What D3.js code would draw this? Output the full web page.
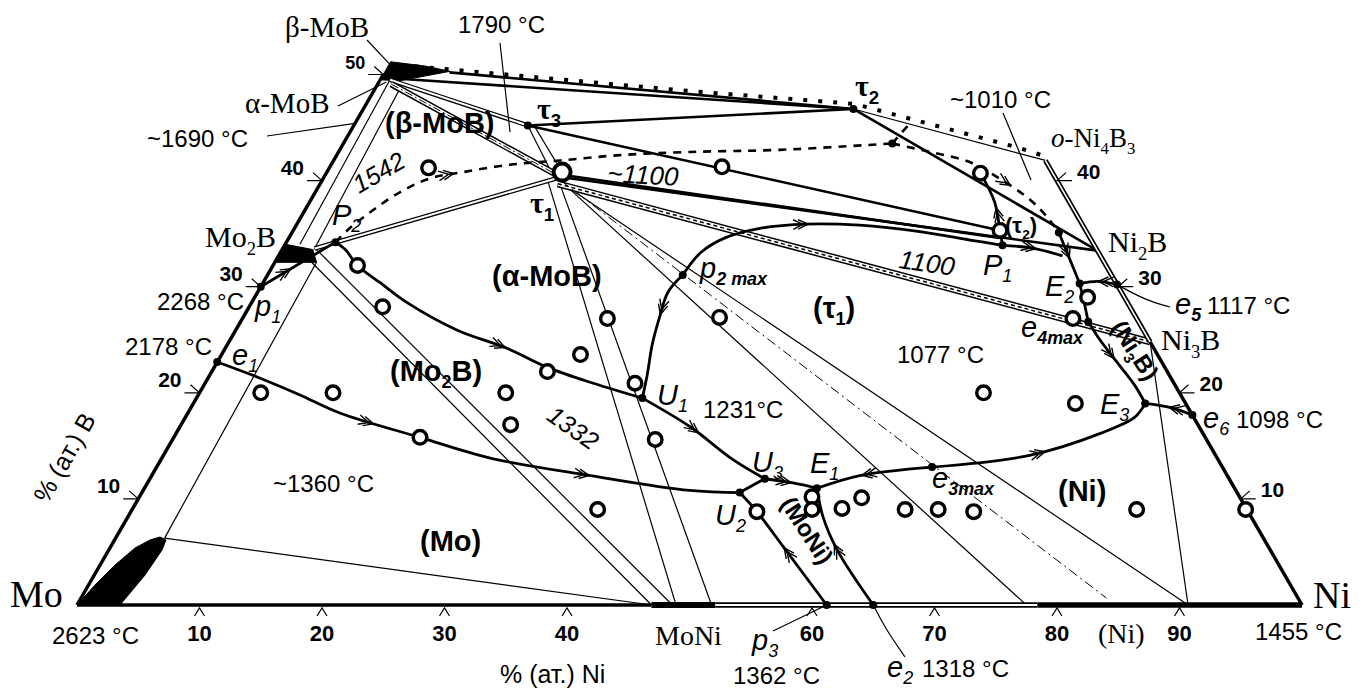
<!DOCTYPE html>
<html>
<head>
<meta charset="utf-8">
<script src="https://d3js.org/d3.v7.min.js"></script>
<style>
  body { margin: 0; background: #fff; }
  svg text { font-family: "Liberation Sans", Arial, sans-serif; fill: #000; }
  svg text.serif { font-family: "Liberation Serif", "Times New Roman", serif; }
</style>
</head>
<body>
<script>
// all compositions are at.% [Ni, B]; Mo is the balance

// alloys studied (open circles)
const alloys = [
  [8.1, 41.2], [32.0, 41.3], [53.4, 40.7], [57.7, 35.3], [6.9, 32.0], [10.9, 28.1],
  [29.8, 27.0], [38.9, 27.1], [29.3, 23.6], [27.4, 22.0], [35.1, 20.9], [25.0, 20.0],
  [26.9, 17.0], [39.4, 15.6], [20.1, 15.8], [5.0, 20.0], [10.9, 20.0], [38.0, 9.0],
  [51.1, 8.8], [54.9, 10.2], [55.5, 9.0], [57.9, 9.1], [59.0, 10.1], [63.1, 9.0],
  [65.8, 9.0], [68.8, 8.8], [68.0, 29.0], [67.8, 27.0], [64.0, 20.0], [72.0, 19.0],
  [82.0, 9.0], [90.9, 9.0]
];
const tau1Alloy = [19.2, 40.8];

// invariant points (black dots)
const invariantNames = ['e1', 'p1', 'P2', 'U1', 'p2max', 'U3', 'U2', 'E1', 'p3', 'e2', 'e3max',
  'E3', 'e6', 'e4max', 'E2', 'e5', 'd1', 'P1', 'd2', 'tau2', 'tau3'];
const invariantComp = [[0, 22.9], [0, 30], [4.0, 34.2], [36.4, 19.5], [33.9, 31.1], [50.2, 11.9],
  [48.8, 10.6], [54.9, 11.0], [61.2, 0], [65.0, 0], [63.3, 13.0], [77.7, 19.0], [82.1, 17.9],
  [69.2, 26.7], [66.7, 30.3], [69.8, 30.2], [62.6, 35.1], [58.6, 33.9], [44.8, 43.5],
  [40.0, 46.75], [14.2, 45.2]];

// monovariant lines
const lineE1U2 = [[0, 22.9], [4.2, 21.4], [8.3, 19.8], [12.4, 18.1], [20.1, 15.8], [26.8, 13.85], [35.8, 12.2], [44.6, 10.8], [48.8, 10.6]];
const lineP2U1 = [[4.0, 34.2], [5.15, 33.5], [6.9, 32.0], [9.6, 30.35], [12.7, 28.5], [18.1, 25.9], [23.0, 24.2], [27.2, 22.4], [31.7, 20.9], [36.4, 19.5]];
const lineP1P2 = [[0, 30], [4.0, 34.2]];
const lineMaxU1 = [[33.9, 31.1], [33.5, 29.5], [34.0, 27.1], [34.7, 24.5], [35.7, 21.7], [36.4, 19.5]];
const lineMaxP1 = [[33.9, 31.1], [34.3, 33.2], [35.6, 34.6], [38.0, 35.5], [41.6, 35.9], [46.0, 35.8], [51.2, 35.2], [55.7, 34.4], [58.6, 33.9]];
const lineU1U3 = [[36.4, 19.5], [41.65, 16.8], [46.7, 13.7], [50.2, 11.9]];
const lineU3E1 = [[50.2, 11.9], [52.7, 11.5], [54.9, 11.0]];
const lineU3U2 = [[50.2, 11.9], [48.8, 10.6]];
const lineP3U2 = [[61.2, 0], [54.9, 5.5], [51.1, 8.8], [48.8, 10.6]];
const lineE2E1 = [[65.0, 0], [59.45, 5.2], [56.75, 8.3], [54.9, 11.0]];
const lineMaxE1 = [[63.3, 13.0], [57.8, 12.2], [54.9, 11.0]];
const lineMaxE3 = [[63.3, 13.0], [70.7, 14.1], [75.5, 16.2], [77.5, 17.7], [77.7, 19.0]];
const lineE6E3 = [[82.1, 17.9], [80.0, 18.6], [77.7, 19.0]];
const lineMax4E3 = [[69.2, 26.7], [71.0, 25.0], [73.2, 23.1], [76.0, 20.7], [77.7, 19.0]];
const lineMax4E2 = [[69.2, 26.7], [67.9, 28.6], [66.7, 30.3]];
const lineE5E2 = [[69.8, 30.2], [68.1, 30.5], [66.7, 30.3]];
const lineD1E2 = [[62.6, 35.1], [64.4, 33.0], [66.7, 30.3]];
const lineP1Side = [[58.6, 33.9], [61.4, 33.6], [64.0, 32.9]];
const lineP1Up = [[58.6, 33.9], [57.7, 35.3], [55.9, 38.0], [53.4, 40.7]];

// dashed and dotted lines
const dashedLow = [[4.0, 34.2], [4.5, 35.5], [5.55, 37.2], [6.9, 38.9], [8.7, 40.2], [11.1, 40.8], [14.6, 41.5], [18.5, 41.9], [23.1, 42.4], [28.7, 42.7], [35.95, 42.9], [44.8, 43.5]];
const dashedRight = [[44.8, 43.5], [48.3, 42.7], [52.0, 41.75], [55.2, 40.2], [58.7, 38.2], [61.0, 36.5], [62.6, 35.1]];
const dashedShort = [[44.8, 43.5], [45.3, 45.4]];
const dottedTop = [[0.9, 50.9], [25.8, 48.44], [39.9, 47.22], [55.4, 43.07], [58.4, 42.13]];

// tie lines / phase-field boundaries
const tieThin = [
  [[4.0, 6.3], [46.9, 0]], [[4.0, 6.3], [3.4, 32.3]], [[3.0, 32.3], [46.9, 0]], [[2.8, 33.5], [48.6, 0]],
  [[2.6, 33.5], [2.0, 49.3]], [[1.2, 34.0], [0.8, 49.5]],
  [[14.2, 45.2], [18.6, 40.5]], [[14.7, 45.2], [19.5, 40.5]],
  [[18.5, 39.9], [48.9, 0]], [[19.4, 39.9], [51.8, 0]],
  [[19.6, 39.9], [77.5, 0]], [[19.8, 39.7], [90.7, 0]],
  [[75.2, 24.8], [90.7, 0]], [[40.0, 46.75], [58.1, 41.9]]
];
const tieDouble = [[[2.6, 33.6], [19.0, 40.2]], [[0.8, 49.5], [14.2, 45.2]]];
const tieDashDotDouble = [[1.1, 49.1], [19.2, 40.4]];
const tieHatched = [[19.4, 39.7], [75.2, 24.8]];
const tieDashDot = [[19.5, 40.0], [83.7, 0.66]];
const tieThick = [
  [[5.3, 50.2], [40, 46.75]], [[1.5, 49.6], [40, 46.75]], [[14.2, 45.2], [40, 46.75]],
  [[14.2, 45.2], [57.7, 35.3]], [[19.6, 40.5], [58.0, 34.6]], [[19.6, 40.3], [66.6, 33.4]],
  [[40, 46.75], [66.6, 33.4]]
];

// single-phase regions drawn solid
const moSolid = [[0, 0], [0.53, 1.885], [1.22, 3.77], [2.05, 5.37], [2.9, 6.13], [3.57, 6.41], [4.2, 6.13], [4.35, 5.18], [4.14, 2.83], [3.51, 0]];
const mo2bPhase = [[0, 34], [2.5, 33.5], [3.4, 32.3], [0, 32.3]];
const mobPhase = [[0, 49.5], [0, 51.2], [3, 50.8], [5.3, 50.3], [1.6, 49.4]];

// triangle sides
const sideLeft = [[0, 0], [0, 50]];
const sideRightLow = [[100, 0], [75.2, 24.8]];
const sideRightHigh = [[75.2, 24.8], [66.6, 33.4], [58.1, 41.9]];
const baseSolid = [0, 46.9];
const baseMoNi = [46.9, 52.1];
const baseDouble = [52.1, 78.4];
const baseNi = [78.4, 100];

// ticks
const ticksNi = [10, 20, 30, 40, 60, 70, 80, 90];
const ticksBLeft = [10, 20, 30, 40, 50];
const ticksBRight = [10, 20, 30, 40];

// ---------------------------------------------------------------
const width = 1368, height = 689;
const svg = d3.select('body').append('svg').attr('width', width).attr('height', height);

const x = d3.scaleLinear().domain([0, 100]).range([77, 1302]);
const y = d3.scaleLinear().domain([0, 100]).range([605, -456]);
const P = d => [x(d[0] + d[1] / 2), y(d[1])];
const straight = d3.line().x(d => P(d)[0]).y(d => P(d)[1]);
const smooth = d3.line().x(d => P(d)[0]).y(d => P(d)[1]).curve(d3.curveCatmullRom.alpha(0.5));
const pt = Object.fromEntries(invariantNames.map((n, i) => [n, invariantComp[i]]));

const g = svg.append('g').attr('fill', 'none').attr('stroke', '#000').attr('stroke-linecap', 'butt');

// solid phases
[moSolid, mo2bPhase, mobPhase].forEach(poly =>
  g.append('path').attr('d', straight(poly) + 'Z').attr('fill', '#000').attr('stroke', '#000').attr('stroke-width', 1));

// thin ties
tieThin.forEach(l => g.append('path').attr('d', straight(l)).attr('stroke-width', 1.2));

// double lines
function doubleLine(l, outer, inner) {
  g.append('path').attr('d', straight(l)).attr('stroke-width', outer);
  g.append('path').attr('d', straight(l)).attr('stroke', '#fff').attr('stroke-width', inner);
}
tieDouble.forEach(l => doubleLine(l, 4.5, 2));
doubleLine(tieDashDotDouble, 6.5, 3.5);
g.append('path').attr('d', straight(tieDashDotDouble)).attr('stroke-width', 1).attr('stroke-dasharray', '8,3,2,3');
doubleLine(tieHatched, 7, 4);
g.append('path').attr('d', straight(tieHatched)).attr('stroke-width', 1.5).attr('stroke-dasharray', '4,3');
g.append('path').attr('d', straight(tieDashDot)).attr('stroke-width', 1).attr('stroke-dasharray', '10,4,2,4');

tieThick.forEach(l => g.append('path').attr('d', straight(l)).attr('stroke-width', 2.6));

// sides
g.append('path').attr('d', straight(sideLeft)).attr('stroke-width', 3.5);
g.append('path').attr('d', straight(sideRightLow)).attr('stroke-width', 3.5);
doubleLine(sideRightHigh, 5, 1.6);
const base = r => straight([[r[0], 0], [r[1], 0]]);
g.append('path').attr('d', base(baseSolid)).attr('stroke-width', 3.5);
g.append('path').attr('d', base(baseMoNi)).attr('stroke-width', 6);
g.append('path').attr('d', base(baseDouble)).attr('stroke-width', 5.5);
g.append('path').attr('d', base(baseDouble)).attr('stroke', '#fff').attr('stroke-width', 2);
g.append('path').attr('d', base(baseNi)).attr('stroke-width', 5.5);

// dotted & dashed
g.append('path').attr('d', straight(dottedTop)).attr('stroke-width', 4).attr('stroke-dasharray', '4,11');
const dashed = [dashedLow, dashedRight, dashedShort].map(l =>
  g.append('path').attr('d', smooth(l)).attr('stroke-width', 2.6).attr('stroke-dasharray', '8,7'));

// monovariant curves
const curves = [lineE1U2, lineP2U1, lineP1P2, lineMaxU1, lineMaxP1, lineU1U3, lineU3E1, lineU3U2,
  lineP3U2, lineE2E1, lineMaxE1, lineMaxE3, lineE6E3, lineMax4E3, lineMax4E2, lineE5E2, lineD1E2,
  lineP1Side, lineP1Up].map(l => g.append('path').attr('d', smooth(l)).attr('stroke-width', 2.8));

// chevron arrows along curves
function chevrons(node, t, n) {
  const L = node.getTotalLength();
  const a0 = node.getPointAtLength(Math.max(0, L * t - 2));
  const a1 = node.getPointAtLength(Math.min(L, L * t + 2));
  const ang = Math.atan2(a1.y - a0.y, a1.x - a0.x);
  const c = node.getPointAtLength(L * t);
  let d = '';
  for (let k = 0; k < n; k++) {
    const tx = c.x - Math.cos(ang) * k * 5, ty = c.y - Math.sin(ang) * k * 5;
    const l = 11, s = 0.45;
    d += `M${tx - l * Math.cos(ang - s)},${ty - l * Math.sin(ang - s)}L${tx},${ty}L${tx - l * Math.cos(ang + s)},${ty - l * Math.sin(ang + s)}`;
  }
  g.append('path').attr('d', d).attr('stroke-width', 1.4);
}
[[0, 0.31], [0, 0.72], [1, 0.58], [2, 0.4], [3, 0.35], [4, 0.42], [5, 0.45], [6, 0.5], [8, 0.5],
 [9, 0.55], [10, 0.6], [11, 0.5], [12, 0.5], [13, 0.45], [15, 0.5], [16, 0.5], [17, 0.55], [18, 0.5]]
  .forEach(([i, t]) => chevrons(curves[i].node(), t, 2));
chevrons(dashed[0].node(), 0.24, 2);
chevrons(dashed[1].node(), 0.65, 2);

// leaders
const lead = (a, b) => g.append('path').attr('d', d3.line()([a, b])).attr('stroke-width', 1.2);
lead([367, 40], P([0, 51]));
lead([338, 106], P([0.6, 49.3]));
lead([267, 136], P([0, 45.4]));
lead([500, 43], [510, 132]);
lead([1003, 113], [1031, 180]);
lead([773, 631], P(pt.p3));
g.append('path').attr('d', d3.line().curve(d3.curveBasis)([P(pt.e2), [885, 628], [905, 657]])).attr('stroke-width', 1.2);
g.append('path').attr('d', d3.line().curve(d3.curveBasis)([[1170, 307], [1145, 300], P(pt.e5)])).attr('stroke-width', 1.2);

// alloys
g.selectAll('circle.alloy').data(alloys).join('circle').attr('class', 'alloy')
  .attr('cx', d => P(d)[0]).attr('cy', d => P(d)[1]).attr('r', 6.8)
  .attr('fill', '#fff').attr('stroke-width', 3.4);
g.append('circle').attr('cx', P(tau1Alloy)[0]).attr('cy', P(tau1Alloy)[1]).attr('r', 8.5)
  .attr('fill', '#fff').attr('stroke-width', 4);

// invariant dots
g.selectAll('circle.inv').data(invariantComp).join('circle').attr('class', 'inv')
  .attr('cx', d => P(d)[0]).attr('cy', d => P(d)[1]).attr('r', 4).attr('fill', '#000').attr('stroke', 'none');

// ticks
ticksNi.forEach(v => {
  const p = P([v, 0]);
  g.append('path').attr('d', `M${p[0] - 5},${p[1] + 11}L${p[0]},${p[1] + 3}L${p[0] + 5},${p[1] + 11}`).attr('stroke-width', 1.2);
  svg.append('text').attr('x', p[0]).attr('y', 641).attr('text-anchor', 'middle')
    .attr('font-weight', 'bold').attr('font-size', 22).text(v);
});
ticksBLeft.forEach(v => {
  const p = P([0, v]);
  g.append('path').attr('d', `M${p[0] - 15},${p[1]}L${p[0]},${p[1]}L${p[0] - 9},${p[1] - 8}`).attr('stroke-width', 1.2);
  svg.append('text').attr('x', p[0] - 18).attr('y', p[1] - 6).attr('text-anchor', 'end')
    .attr('font-weight', 'bold').attr('font-size', v === 50 ? 18 : 21).text(v);
});
ticksBRight.forEach(v => {
  const p = P([100 - v, v]);
  g.append('path').attr('d', `M${p[0] + 15},${p[1]}L${p[0]},${p[1]}L${p[0] + 9},${p[1] - 8}`).attr('stroke-width', 1.2);
  svg.append('text').attr('x', p[0] + 20).attr('y', p[1] - 2)
    .attr('font-weight', 'bold').attr('font-size', 21).text(v);
});

// text helper: _{..} subscript, *..* italic
function label(str, px, py, o = {}) {
  const fs = o.size || 25;
  const t = svg.append('text').attr('x', px).attr('y', py).attr('font-size', fs);
  if (o.serif) t.attr('class', 'serif');
  if (o.bold) t.attr('font-weight', 'bold');
  if (o.italic) t.attr('font-style', 'italic');
  if (o.anchor) t.attr('text-anchor', o.anchor);
  if (o.rot) t.attr('transform', `rotate(${o.rot},${px},${py})`);
  let shift = 0;
  str.split(/(_\{[^}]*\}|\*[^*]*\*)/).filter(s => s !== '').forEach(p => {
    const ts = t.append('tspan');
    if (p.startsWith('_{')) {
      const sh = fs * 0.25;
      ts.text(p.slice(2, -1)).attr('font-size', fs * 0.62).attr('dy', sh - shift);
      if (o.subBold) ts.attr('font-weight', 'bold').attr('font-family', '"Liberation Sans", Arial, sans-serif');
      shift = sh;
    } else {
      if (shift) { ts.attr('dy', -shift); shift = 0; }
      if (p.startsWith('*')) ts.text(p.slice(1, -1)).attr('font-style', 'italic');
      else ts.text(p);
    }
  });
  return t;
}

// compounds (serif)
label('β-MoB', 285, 37, { serif: true, size: 29 });
label('α-MoB', 245, 113, { serif: true, size: 29 });
label('Mo_{2}B', 205, 247, { serif: true, size: 30 });
label('Ni_{2}B', 1108, 252, { serif: true, size: 30 });
label('Ni_{3}B', 1161, 350, { serif: true, size: 30 });
label('*o*-Ni_{4}B_{3}', 1051, 147, { serif: true, size: 27 });
label('Mo', 10, 607, { serif: true, size: 38 });
label('Ni', 1313, 608, { serif: true, size: 38 });
label('MoNi', 655, 645, { serif: true, size: 28 });
label('(Ni)', 1098, 643, { serif: true, size: 28 });
label('τ_{1}', 530, 213, { serif: true, bold: true, size: 30, subBold: true });
label('τ_{3}', 537, 119, { serif: true, bold: true, size: 30, subBold: true });
label('τ_{2}', 855, 96, { serif: true, bold: true, size: 30, subBold: true });

// phase regions
label('(β-MoB)', 385, 133, { bold: true, size: 29 });
label('(α-MoB)', 492, 286, { bold: true, size: 29 });
label('(Mo_{2}B)', 390, 381, { bold: true, size: 29 });
label('(τ_{1})', 813, 318, { bold: true, size: 29 });
label('(Mo)', 420, 551, { bold: true, size: 29 });
label('(Ni)', 1058, 501, { bold: true, size: 29 });
label('(τ_{2})', 1005, 233, { bold: true, size: 22 });
label('(MoNi)', 800, 535, { bold: true, size: 24, anchor: 'middle', rot: 57 });
label('(Ni_{3}B)', 1128, 355, { bold: true, size: 24, anchor: 'middle', rot: 57 });

// temperatures
[['~1690 °C', 147, 147], ['1790 °C', 458, 33], ['~1010 °C', 950, 108], ['2268 °C', 157, 310],
 ['2178 °C', 125, 355], ['~1360 °C', 273, 492], ['1231°C', 703, 418], ['1077 °C', 897, 363],
 ['2623 °C', 52, 644], ['1455 °C', 1255, 640], ['1362 °C', 733, 684], ['1318 °C', 922, 677],
 ['1117 °C', 1207, 314], ['1098 °C', 1236, 428]].forEach(([s, a, b]) => label(s, a, b, { size: 24 }));

label('1542', 383, 180, { italic: true, size: 25, anchor: 'middle', rot: -30 });
label('~1100', 607, 182, { italic: true, size: 26, rot: 3 });
label('1100', 898, 268, { italic: true, size: 26, rot: 8 });
label('1332', 568, 435, { italic: true, size: 25, anchor: 'middle', rot: 35 });

// invariant point names
[['P_{2}', 332, 225], ['p_{1}', 255, 316], ['e_{1}', 232, 365], ['U_{1}', 657, 405], ['U_{2}', 715, 525],
 ['U_{3}', 752, 472], ['E_{1}', 810, 473], ['E_{2}', 1045, 296], ['E_{3}', 1100, 414], ['P_{1}', 983, 275],
 ['e_{6}', 1203, 428], ['p_{3}', 752, 650], ['e_{2}', 887, 677]]
  .forEach(([s, a, b]) => label(s, a, b, { italic: true, size: 29 }));
[['p_{2 max}', 700, 278], ['e_{3max}', 932, 488], ['e_{4max}', 1021, 337], ['e_{5}', 1175, 314]]
  .forEach(([s, a, b]) => label(s, a, b, { italic: true, size: 29, subBold: true }));

// axis titles
label('% (ат.) Ni', 500, 683, { size: 25 });
label('% (ат.) B', 72, 462, { size: 25, anchor: 'middle', rot: -60 });
</script>
</body>
</html>
